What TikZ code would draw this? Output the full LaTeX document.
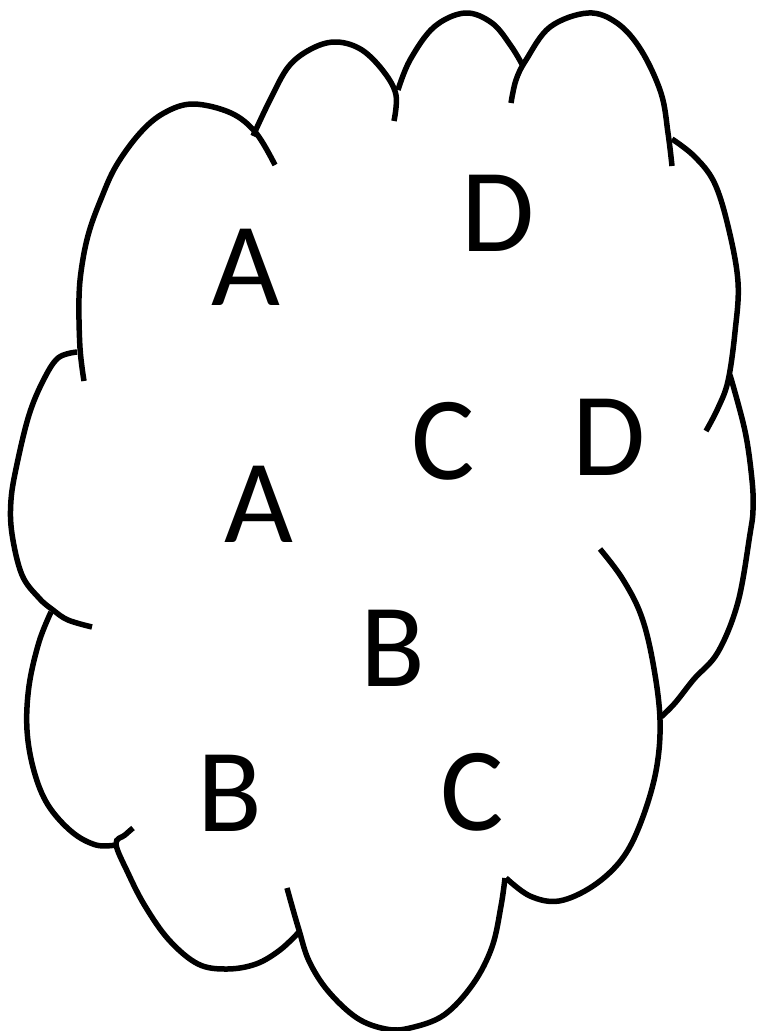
\documentclass[tikz,border=0pt]{standalone}
\usepackage{fontspec}
\setmainfont{Carlito}
\begin{document}
\begin{tikzpicture}[x=1pt,y=-1pt,
  lobe/.style={line width=5.5pt},
  letter/.style={inner sep=0pt, anchor=center, font=\fontsize{119}{120}\selectfont}]
\useasboundingbox[fill=white] (0,0) rectangle (756,1031);
% cloud outline
\draw[lobe] plot[smooth,tension=0.6] coordinates {(84,381) (80,348) (79,298) (82,265) (89,232) (101,199) (116,166) (140,133) (164,113) (193,104) (231,113) (256,133) (275,165)};
\draw[lobe] plot[smooth,tension=0.6] coordinates {(253,136) (270,100) (289,66) (313,48) (337,42) (362,50) (384,72) (396,95) (394,121)};
\draw[lobe] plot[smooth,tension=0.6] coordinates {(398,90) (410,60) (434,27) (465,13) (492,23) (511,46) (523,66)};
\draw[lobe] plot[smooth,tension=0.6] coordinates {(511,103) (516,80) (526,60) (550,27) (588,13) (617,23) (641,50) (661,93) (668,133) (672,166)};
\draw[lobe] plot[smooth,tension=0.6] coordinates {(672,139) (694,156) (714,182) (728,226) (738,282) (735,332) (728,381) (718,408) (706,431)};
\draw[lobe] plot[smooth,tension=0.6] coordinates {(730,375) (745,431) (752,480) (753,510) (750,534) (738,602) (718,652) (694,679) (675,703) (661,717)};
\draw[lobe] plot[smooth,tension=0.6] coordinates {(600,549) (622,578) (641,615) (653,663) (660,720) (656,771) (641,822) (622,859) (593,886) (559,901) (530,896) (506,878)};
\draw[lobe] plot[smooth,tension=0.6] coordinates {(505,878) (501,906) (492,947) (473,984) (444,1015) (410,1028) (386,1029) (357,1018) (328,991) (309,961) (299,930) (292,906) (287,888)};
\draw[lobe] plot[smooth,tension=0.6] coordinates {(299,932) (280,950) (256,964) (227,969) (198,964) (169,940) (145,906) (128,873) (116,844) (125,835) (133,828)};
\draw[lobe] plot[smooth,tension=0.6] coordinates {(51,612) (39,642) (29,686) (27,730) (34,771) (48,805) (72,832) (96,845) (116,845)};
\draw[lobe] plot[smooth,tension=0.6] coordinates {(77,352) (58,358) (43,381) (29,415) (17,464) (11,500) (12,534) (22,575) (39,598) (53,610) (68,620) (92,627)};
% letters
\node[letter] (a1) at (246,267) {A};
\node[letter] (d1) at (498,213) {D};
\node[letter] (c1) at (443,441) {C};
\node[letter] (d2) at (609,437) {D};
\node[letter] (a2) at (259,504) {A};
\node[letter] (b1) at (393,648) {B};
\node[letter] (b2) at (230,793) {B};
\node[letter] (c2) at (472,792) {C};
\end{tikzpicture}
\end{document}
